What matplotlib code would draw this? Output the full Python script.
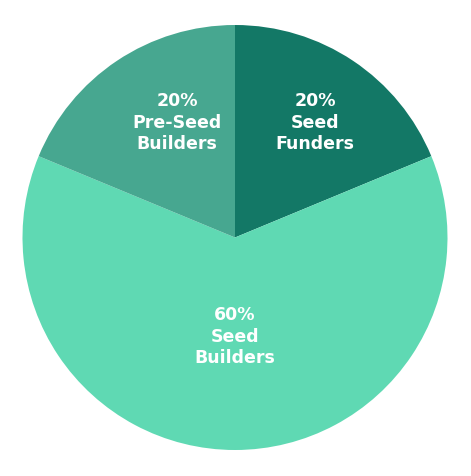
import matplotlib
matplotlib.use("Agg")
import matplotlib.pyplot as plt

labels = ["20%\nSeed\nFunders", "60%\nSeed\nBuilders", "20%\nPre-Seed\nBuilders"]
# slice sizes as drawn in the picture (labels say 20/60/20, wedges are a bit off)
shares = [3, 10, 3]
colors = ["#137866", "#5fd9b3", "#47a790"]
# where each label sits (data units, pie radius = 1)
label_pos = [(0.376, 0.539), (0.0, -0.468), (-0.273, 0.539)]

fig = plt.figure(figsize=(4.71, 4.76), dpi=100)
ax = fig.add_axes([22.5 / 471, 26 / 476, 425 / 471, 425 / 476])

ax.pie(shares, colors=colors, startangle=90, counterclock=False,
       radius=1, wedgeprops={"linewidth": 0})

for lab, (x, y) in zip(labels, label_pos):
    ax.text(x, y, lab, ha="center", va="center", color="white",
            fontsize=12.5, fontweight="bold", family="DejaVu Sans", linespacing=1.25)

ax.set_xlim(-1, 1)
ax.set_ylim(-1, 1)
ax.set_aspect("auto")
ax.axis("off")

fig.savefig("out.png", dpi=100, facecolor="white")
